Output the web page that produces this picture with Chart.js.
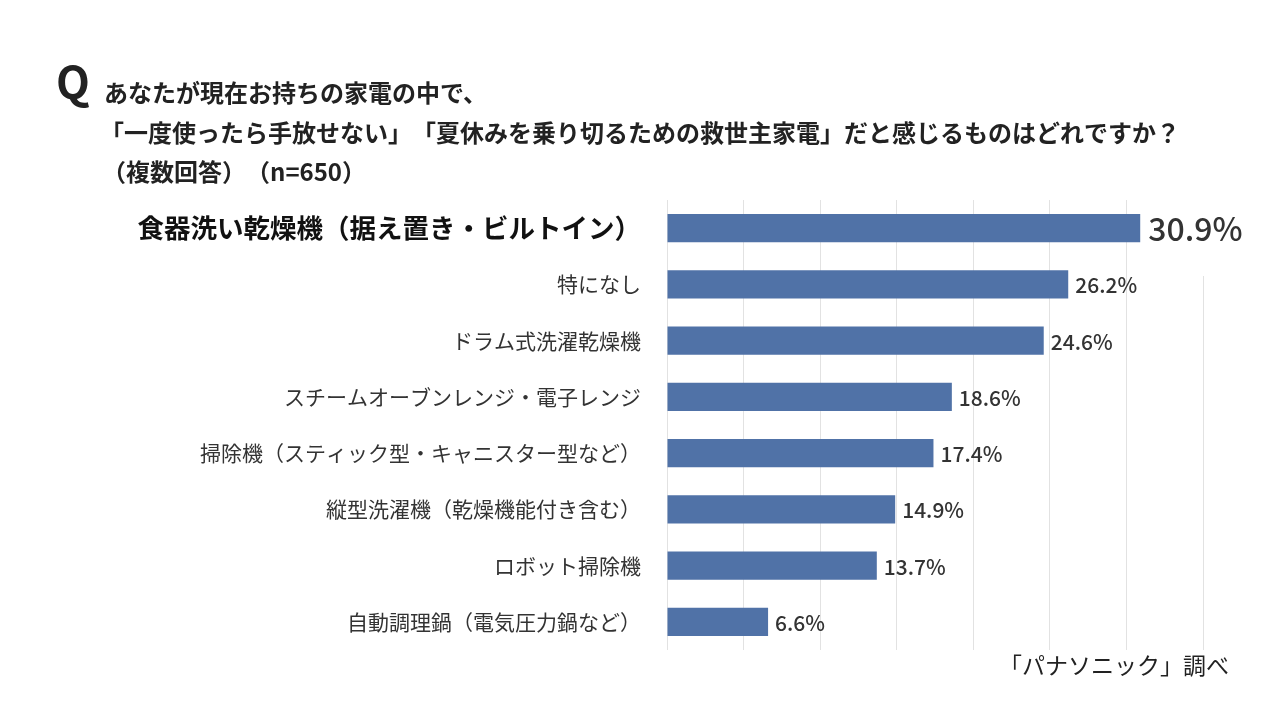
<!DOCTYPE html>
<html>
<head>
<meta charset="utf-8">
<script src="https://cdn.jsdelivr.net/npm/chart.js@4/dist/chart.umd.min.js"></script>
<style>
  html, body { margin:0; padding:0; background:#fff; }
  #wrap { width:1280px; height:720px; position:relative; }
</style>
</head>
<body>
<div id="wrap"><canvas id="myChart" width="1280" height="720"></canvas></div>
<script>
// data
var categories = [
  "食器洗い乾燥機（据え置き・ビルトイン）",
  "特になし",
  "ドラム式洗濯乾燥機",
  "スチームオーブンレンジ・電子レンジ",
  "掃除機（スティック型・キャニスター型など）",
  "縦型洗濯機（乾燥機能付き含む）",
  "ロボット掃除機",
  "自動調理鍋（電気圧力鍋など）"
];
var percents = [30.9, 26.2, 24.6, 18.6, 17.4, 14.9, 13.7, 6.6];
var xTicks = [0, 5, 10, 15, 20, 25, 30, 35];

var titleLines = [
  "あなたが現在お持ちの家電の中で、",
  "「一度使ったら手放せない」　「夏休みを乗り切るための救世主家電」だと感じるものはどれですか？",
  "（複数回答）　（n=650）"
];
var sourceText = "「パナソニック」調べ";

var FONT = "'Noto Sans CJK JP', 'Noto Sans', sans-serif";

// title, value labels, source
var textPlugin = {
  id: "texts",
  afterDatasetsDraw: function(chart) {
    var ctx = chart.ctx;
    var meta = chart.getDatasetMeta(0);
    ctx.save();
    // value labels
    meta.data.forEach(function(bar, i) {
      var big = i === 0;
      ctx.font = (big ? "500 32px " : "500 21px ") + FONT;
      ctx.textBaseline = "middle";
      ctx.textAlign = "left";
      var txt = percents[i].toFixed(1) + "%";
      var w = ctx.measureText(txt).width;
      if (big) {
        ctx.fillStyle = "#fff";
        ctx.fillRect(bar.x + 4, chart.chartArea.top, w + 12, 76);
      }
      ctx.fillStyle = "#333";
      ctx.fillText(txt, bar.x + (big ? 8 : 7), bar.y + 1);
    });
    ctx.restore();
  },
  afterDraw: function(chart) {
    var ctx = chart.ctx;
    ctx.save();
    ctx.fillStyle = "#222";
    ctx.textBaseline = "middle";
    ctx.textAlign = "left";
    ctx.font = "bold 44px " + FONT;
    ctx.fillText("Q", 56, 82);
    ctx.font = "bold 24px " + FONT;
    ctx.fillText(titleLines[0], 104, 93);
    ctx.fillText(titleLines[1], 100, 133);
    ctx.fillText(titleLines[2], 102, 172);
    ctx.font = "23px " + FONT;
    ctx.textAlign = "right";
    ctx.fillText(sourceText, 1229, 665);
    ctx.restore();
  }
};

var ctx = document.getElementById("myChart").getContext("2d");
var chart = new Chart(ctx, {
  type: "bar",
  data: {
    labels: categories,
    datasets: [{
      data: percents,
      backgroundColor: "#5072a7",
      categoryPercentage: 1.0,
      barPercentage: 0.5
    }]
  },
  options: {
    indexAxis: "y",
    responsive: false,
    animation: false,
    layout: { padding: { top: 200, bottom: 70, left: 0, right: 77 } },
    plugins: { legend: { display: false }, tooltip: { enabled: false } },
    scales: {
      x: {
        min: 0,
        max: 35,
        afterBuildTicks: function(scale) {
          scale.ticks = xTicks.map(function(v) { return { value: v }; });
        },
        afterFit: function(scale) { scale.height = 0; },
        ticks: { display: false },
        grid: { color: "#e2e2e2", lineWidth: 1, drawTicks: false },
        border: { display: false }
      },
      y: {
        afterFit: function(scale) { scale.width = 667; },
        grid: { display: false, drawTicks: false },
        border: { display: false },
        ticks: {
          padding: 26,
          color: function(c) { return c.index === 0 ? "#111" : "#333"; },
          font: function(c) {
            return c.index === 0
              ? { family: FONT, size: 26.5, weight: "bold" }
              : { family: FONT, size: 21, weight: "normal" };
          }
        }
      }
    }
  },
  plugins: [textPlugin]
});
</script>
</body>
</html>
